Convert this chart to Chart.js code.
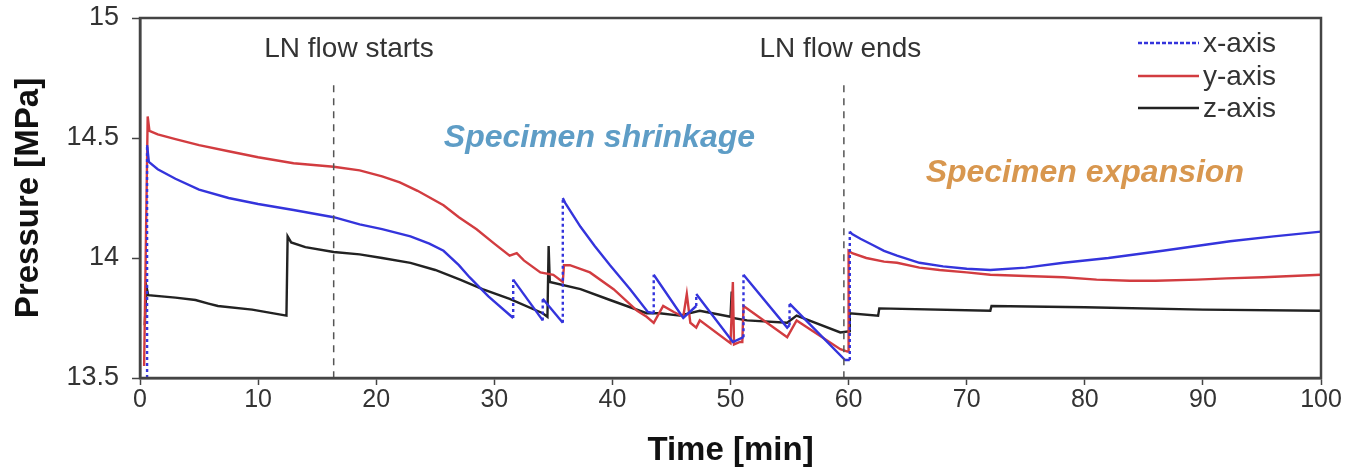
<!DOCTYPE html>
<html>
<head>
<meta charset="utf-8">
<script src="https://cdn.jsdelivr.net/npm/chart.js@4.4.0/dist/chart.umd.min.js"></script>
<style>
  html, body { margin: 0; padding: 0; background: #fff; }
  #wrap { width: 1362px; height: 472px; }
</style>
</head>
<body>
<div id="wrap"><canvas id="c" width="1362" height="472"></canvas></div>
<script>
// ---- data (time in min, pressure in MPa) ----
const xAxisTime = [0.6,0.6,0.75,1.5,3,5,7.5,10,13,16.4,18.6,20.5,22.9,24.5,25.7,27,27.9,29.5,31.6,31.6,34.1,34.1,35.8,35.8,36.0,37.3,38.5,39.8,41.5,43.0,43.5,43.5,46.0,47.1,47.1,50.2,51.1,51.1,54.8,55.0,55.0,59.7,60.1,60.1,60.3,61,62,63,64.1,66,68,70,72,75,78.2,82,86.6,92.3,96,100];
const xAxisPressure = [13.5,14.47,14.40,14.37,14.33,14.285,14.25,14.225,14.20,14.17,14.14,14.12,14.09,14.06,14.03,13.97,13.92,13.84,13.75,13.91,13.74,13.83,13.73,14.25,14.23,14.13,14.05,13.97,13.87,13.775,13.77,13.93,13.75,13.80,13.85,13.65,13.67,13.93,13.71,13.72,13.81,13.575,13.575,14.11,14.10,14.08,14.055,14.03,14.01,13.98,13.965,13.955,13.95,13.96,13.98,14.0,14.03,14.07,14.09,14.11];

const yAxisTime = [0.35,0.65,0.8,1.5,3,5,7.5,10,13,16.4,18.6,20.5,22,23.5,25.7,27,28.5,30,31.3,31.9,32.5,33.9,35.0,35.8,35.9,36.4,38.1,40.1,42.1,42.9,43.5,44.3,45.2,46.0,46.3,46.6,47.1,47.4,50.0,50.2,50.3,50.8,51.0,51.1,51.4,54.8,55.6,59.3,59.9,60.0,60.0,60.3,61.5,63,64.1,66,67.7,70,72,75,78.2,81,83.8,86,89.5,92,95.1,100];
const yAxisPressure = [13.55,14.59,14.53,14.515,14.495,14.47,14.445,14.42,14.395,14.38,14.365,14.34,14.315,14.28,14.22,14.17,14.12,14.06,14.01,14.02,13.99,13.94,13.93,13.90,13.97,13.97,13.94,13.87,13.78,13.755,13.73,13.80,13.775,13.755,13.85,13.73,13.71,13.74,13.645,13.90,13.64,13.65,13.65,13.80,13.79,13.67,13.74,13.62,13.61,13.61,14.03,14.02,14.0,13.985,13.98,13.96,13.95,13.94,13.93,13.925,13.92,13.91,13.905,13.905,13.91,13.915,13.92,13.93];

const zAxisTime = [0.4,0.55,0.7,3,4.7,5.8,6.6,9.5,12.4,12.5,12.8,14,16.4,18.6,20.5,22.9,25,27.1,29,31.3,34.1,34.5,34.6,34.7,37.3,39.8,42.9,44,45.7,47.4,50.0,50.1,50.2,51.4,54.8,55.6,59.3,60.1,60.1,62.5,62.6,72,72.1,80,90,100];
const zAxisPressure = [13.72,13.88,13.845,13.835,13.825,13.81,13.80,13.785,13.76,14.09,14.065,14.045,14.025,14.015,14.0,13.98,13.95,13.91,13.87,13.83,13.77,13.755,14.05,13.90,13.87,13.825,13.77,13.77,13.76,13.78,13.755,13.86,13.75,13.74,13.73,13.76,13.69,13.695,13.77,13.76,13.79,13.78,13.80,13.795,13.785,13.78];

const eventTimes = [16.4, 59.6];
const eventLabels = ['LN flow starts', 'LN flow ends'];
const eventTop = 14.72;
const seriesNames = ['x-axis', 'y-axis', 'z-axis'];
const seriesColors = ['#3434dc', '#d23c40', '#222222'];
const xTicks = [0,10,20,30,40,50,60,70,80,90,100];
const yTicks = [13.5,14,14.5,15];

const pts = (t, p) => t.map((v, i) => ({x: v, y: p[i]}));
const vertDash = ctx => (ctx.p0.parsed.x === ctx.p1.parsed.x ? [3, 3] : []);

const datasets = [
  {label: seriesNames[0], data: pts(xAxisTime, xAxisPressure), borderColor: seriesColors[0], borderWidth: 2.4,
   pointRadius: 0, tension: 0, segment: {borderDash: vertDash}},
  {label: seriesNames[1], data: pts(yAxisTime, yAxisPressure), borderColor: seriesColors[1], borderWidth: 2.4,
   pointRadius: 0, tension: 0},
  {label: seriesNames[2], data: pts(zAxisTime, zAxisPressure), borderColor: seriesColors[2], borderWidth: 2.4,
   pointRadius: 0, tension: 0}
];
eventTimes.forEach((t, i) => {
  datasets.unshift({label: 'event' + i, data: [{x: t, y: eventTop}, {x: t, y: 13.5}], borderColor: '#555',
    borderWidth: 1.5, borderDash: [7, 6], pointRadius: 0});
});

const FONT = "'Liberation Sans', Arial, sans-serif";

const overlay = {
  id: 'overlay',
  afterDraw(chart) {
    const {ctx, chartArea: a, scales: {x, y}} = chart;
    ctx.save();
    // frame
    ctx.strokeStyle = '#444';
    ctx.lineWidth = 2.5;
    ctx.strokeRect(a.left, a.top, a.right - a.left, a.bottom - a.top);
    // event labels
    ctx.fillStyle = '#333';
    ctx.font = '28px ' + FONT;
    ctx.textAlign = 'center';
    ctx.textBaseline = 'middle';
    ctx.fillText(eventLabels[0], x.getPixelForValue(17.7), y.getPixelForValue(14.87));
    ctx.fillText(eventLabels[1], x.getPixelForValue(59.3), y.getPixelForValue(14.87));
    // region labels
    ctx.font = 'italic bold 32px ' + FONT;
    ctx.fillStyle = '#5e9dc6';
    ctx.fillText('Specimen shrinkage', x.getPixelForValue(38.9), y.getPixelForValue(14.50));
    ctx.fillStyle = '#d8974f';
    ctx.fillText('Specimen expansion', x.getPixelForValue(80.0), y.getPixelForValue(14.355));
    // legend
    const rows = [43, 76, 108];
    ctx.font = '28px ' + FONT;
    ctx.textAlign = 'left';
    rows.forEach((ry, i) => {
      ctx.beginPath();
      ctx.strokeStyle = seriesColors[i];
      ctx.lineWidth = 2.4;
      ctx.setLineDash(i === 0 ? [4, 2] : []);
      ctx.moveTo(1138, ry);
      ctx.lineTo(1199, ry);
      ctx.stroke();
      ctx.setLineDash([]);
      ctx.fillStyle = '#333';
      ctx.fillText(seriesNames[i], 1203, ry + 1);
    });
    ctx.restore();
  }
};

new Chart(document.getElementById('c'), {
  type: 'line',
  data: {datasets},
  plugins: [overlay],
  options: {
    responsive: false,
    animation: false,
    layout: {padding: {top: 18, right: 41, left: 0, bottom: 0}},
    plugins: {legend: {display: false}, tooltip: {enabled: false}},
    scales: {
      x: {
        type: 'linear', min: 0, max: 100,
        afterBuildTicks: s => { s.ticks = xTicks.map(v => ({value: v})); },
        afterFit: s => { s.height = 94; s.paddingLeft = 0; s.paddingRight = 0; },
        grid: {drawOnChartArea: false, drawTicks: true, tickLength: 7, color: '#444', tickWidth: 1.5},
        border: {display: true, color: '#444', width: 2.5},
        ticks: {color: '#333', font: {family: FONT, size: 25}, padding: 0, maxRotation: 0, callback: v => String(v)},
        title: {display: true, text: 'Time [min]', color: '#111', font: {family: FONT, size: 33, weight: 'bold'}, padding: {top: 0, bottom: 1}}
      },
      y: {
        type: 'linear', min: 13.5, max: 15,
        afterBuildTicks: s => { s.ticks = yTicks.map(v => ({value: v})); },
        afterFit: s => { s.width = 140; s.paddingTop = 0; s.paddingBottom = 0; },
        grid: {drawOnChartArea: false, drawTicks: true, tickLength: 8, color: '#444', tickWidth: 1.5},
        border: {display: true, color: '#444', width: 2.5},
        ticks: {color: '#333', font: {family: FONT, size: 27}, padding: 13, callback: v => String(v)},
        title: {display: true, text: 'Pressure [MPa]', color: '#111', font: {family: FONT, size: 33, weight: 'bold'}, padding: {top: 9, bottom: 0}}
      }
    }
  }
});
</script>
</body>
</html>
